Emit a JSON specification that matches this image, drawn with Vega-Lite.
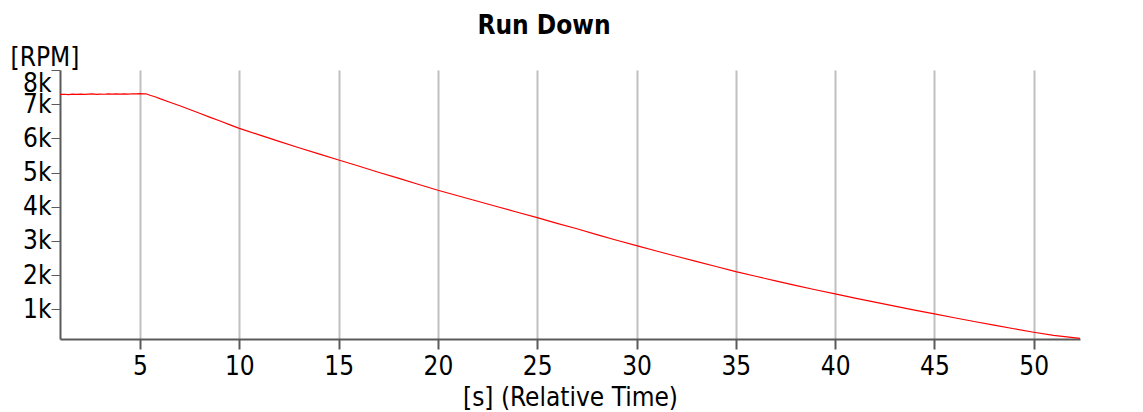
{
  "$schema": "https://vega.github.io/schema/vega-lite/v6.json",
  "autosize": "none",
  "width": 1020,
  "height": 269,
  "padding": {"left": 60, "top": 70, "right": 63, "bottom": 73},
  "background": "white",
  "config": {
    "view": {"stroke": null},
    "font": "DejaVu Sans Condensed, DejaVu Sans"
  },
  "title": {
    "text": "Run Down",
    "font": "DejaVu Sans Condensed, DejaVu Sans",
    "fontSize": 26,
    "fontWeight": "bold",
    "color": "#000000",
    "anchor": "middle",
    "frame": "group",
    "dx": -26,
    "baseline": "alphabetic",
    "offset": -16
  },
  "data": {
    "values": [
      {"t": 0.97, "rpm": 7286}, {"t": 1.2, "rpm": 7291}, {"t": 1.4, "rpm": 7282}, {"t": 1.6, "rpm": 7294},
      {"t": 1.8, "rpm": 7288}, {"t": 2.0, "rpm": 7297}, {"t": 2.2, "rpm": 7285}, {"t": 2.4, "rpm": 7293},
      {"t": 2.6, "rpm": 7299}, {"t": 2.8, "rpm": 7289}, {"t": 3.0, "rpm": 7296}, {"t": 3.2, "rpm": 7291},
      {"t": 3.4, "rpm": 7301}, {"t": 3.6, "rpm": 7294}, {"t": 3.8, "rpm": 7299}, {"t": 4.0, "rpm": 7292},
      {"t": 4.2, "rpm": 7303}, {"t": 4.4, "rpm": 7297}, {"t": 4.6, "rpm": 7305}, {"t": 4.8, "rpm": 7299},
      {"t": 5.0, "rpm": 7306}, {"t": 5.15, "rpm": 7301}, {"t": 5.3, "rpm": 7304},
      {"t": 5.5, "rpm": 7262}, {"t": 5.75, "rpm": 7218}, {"t": 6.0, "rpm": 7162}, {"t": 6.5, "rpm": 7058},
      {"t": 7.0, "rpm": 6955}, {"t": 7.5, "rpm": 6843}, {"t": 8.0, "rpm": 6735}, {"t": 8.5, "rpm": 6622},
      {"t": 9.0, "rpm": 6514}, {"t": 9.5, "rpm": 6403}, {"t": 10.0, "rpm": 6294},
      {"t": 11, "rpm": 6100}, {"t": 12, "rpm": 5910}, {"t": 13, "rpm": 5725}, {"t": 14, "rpm": 5545},
      {"t": 15, "rpm": 5367}, {"t": 16, "rpm": 5190}, {"t": 17, "rpm": 5010}, {"t": 18, "rpm": 4835},
      {"t": 19, "rpm": 4658}, {"t": 20, "rpm": 4481}, {"t": 21, "rpm": 4320}, {"t": 22, "rpm": 4160},
      {"t": 23, "rpm": 3998}, {"t": 24, "rpm": 3838}, {"t": 25, "rpm": 3679}, {"t": 26, "rpm": 3515},
      {"t": 27, "rpm": 3355}, {"t": 28, "rpm": 3185}, {"t": 29, "rpm": 3020}, {"t": 30, "rpm": 2863},
      {"t": 31, "rpm": 2705}, {"t": 32, "rpm": 2552}, {"t": 33, "rpm": 2400}, {"t": 34, "rpm": 2250},
      {"t": 35, "rpm": 2100}, {"t": 36, "rpm": 1965}, {"t": 37, "rpm": 1830}, {"t": 38, "rpm": 1700},
      {"t": 39, "rpm": 1572}, {"t": 40, "rpm": 1448}, {"t": 41, "rpm": 1328}, {"t": 42, "rpm": 1210},
      {"t": 43, "rpm": 1092}, {"t": 44, "rpm": 976}, {"t": 45, "rpm": 863}, {"t": 46, "rpm": 752},
      {"t": 47, "rpm": 643}, {"t": 48, "rpm": 535}, {"t": 49, "rpm": 430}, {"t": 50, "rpm": 328},
      {"t": 51, "rpm": 235}, {"t": 52.33, "rpm": 150}
    ]
  },
  "mark": {"type": "line", "color": "#ff0000", "strokeWidth": 1.2, "clip": true},
  "encoding": {
    "x": {
      "field": "t",
      "type": "quantitative",
      "scale": {"domain": [0.97, 52.33], "nice": false, "zero": false},
      "axis": {
        "title": "[s] (Relative Time)",
        "titleFontSize": 26,
        "titleFontWeight": "normal",
        "titleColor": "#000000",
        "titlePadding": 5,
        "values": [5, 10, 15, 20, 25, 30, 35, 40, 45, 50],
        "labelFontSize": 26,
        "labelColor": "#000000",
        "labelPadding": 4,
        "labelOverlap": false,
        "tickSize": 10,
        "tickWidth": 2,
        "tickColor": "#5a5a5a",
        "domainColor": "#5a5a5a",
        "domainWidth": 2,
        "grid": true,
        "gridColor": "#c0c0c0",
        "gridWidth": 2
      }
    },
    "y": {
      "field": "rpm",
      "type": "quantitative",
      "scale": {"domain": [130, 8000], "nice": false, "zero": false},
      "axis": {
        "title": "[RPM]",
        "titleFontSize": 26,
        "titleFontWeight": "normal",
        "titleColor": "#000000",
        "titleAngle": 0,
        "titleAlign": "left",
        "titleBaseline": "alphabetic",
        "titleX": -50,
        "titleY": -5,
        "values": [1000, 2000, 3000, 4000, 5000, 6000, 7000, 8000],
        "labelExpr": "datum.value / 1000 + 'k'",
        "labelFontSize": 26,
        "labelColor": "#000000",
        "labelPadding": 0,
        "labelFlush": true,
        "labelOverlap": false,
        "tickSize": 9,
        "tickWidth": 1,
        "tickColor": "#5a5a5a",
        "domainColor": "#5a5a5a",
        "domainWidth": 2,
        "grid": false
      }
    }
  }
}
